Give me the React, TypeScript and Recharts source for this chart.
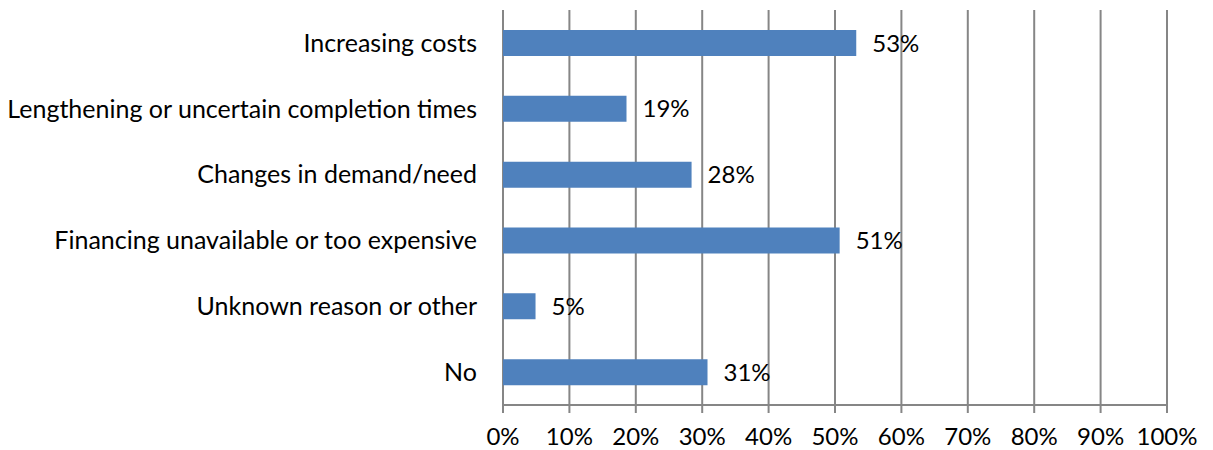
import React from "react";
import { BarChart, Bar, XAxis, YAxis, CartesianGrid, LabelList } from "recharts";

const categories = [
  "Increasing costs",
  "Lengthening or uncertain completion times",
  "Changes in demand/need",
  "Financing unavailable or too expensive",
  "Unknown reason or other",
  "No",
];
const shares = [0.532, 0.186, 0.284, 0.507, 0.049, 0.308];
const xTicks = [0, 0.1, 0.2, 0.3, 0.4, 0.5, 0.6, 0.7, 0.8, 0.9, 1];
const bandTicks = [0, 1, 2, 3, 4, 5, 6];

const data = categories.map((name, i) => ({ name, value: shares[i] }));

const FONT = "Lato, 'Open Sans', sans-serif";
const GRAY = "#868686";
const pct = (v: number) => `${Math.round(v * 100)}%`;

export default function App() {
  return (
    <div style={{ position: "absolute", left: 0, top: 0, background: "#fff" }}>
      <BarChart
        width={1213}
        height={450}
        data={data}
        layout="vertical"
        margin={{ top: 10, right: 46, bottom: 0, left: 0 }}
        barCategoryGap={0}
      >
        <CartesianGrid horizontal={false} vertical stroke={GRAY} strokeWidth={2} />
        <XAxis
          type="number"
          dataKey="value"
          domain={[0, 1]}
          ticks={xTicks}
          interval={0}
          tickFormatter={pct}
          axisLine={{ stroke: GRAY, strokeWidth: 2 }}
          tickLine={{ stroke: GRAY, strokeWidth: 2 }}
          tickSize={8}
          tickMargin={15}
          height={45}
          tick={{ fill: "#000", fontSize: 24, fontFamily: FONT }}
        />
        <YAxis
          yAxisId="ticks"
          type="number"
          domain={[0, 6]}
          ticks={bandTicks}
          interval={0}
          width={0}
          tick={false}
          tickSize={8}
          axisLine={{ stroke: GRAY, strokeWidth: 2 }}
          tickLine={{ stroke: GRAY, strokeWidth: 2 }}
        />
        <YAxis
          yAxisId="cat"
          type="category"
          dataKey="name"
          width={503}
          axisLine={false}
          tickLine={false}
          tickSize={0}
          tickMargin={26}
          interval={0}
          tick={{ fill: "#000", fontSize: 25, fontFamily: FONT }}
        />
        <Bar
          yAxisId="cat"
          dataKey="value"
          fill="#4F81BD"
          barSize={26}
          isAnimationActive={false}
        >
          <LabelList
            dataKey="value"
            position="right"
            offset={16}
            formatter={(v: any) => pct(Number(v))}
            fill="#000"
            fontSize={24}
            fontFamily={FONT}
          />
        </Bar>
      </BarChart>
    </div>
  );
}
